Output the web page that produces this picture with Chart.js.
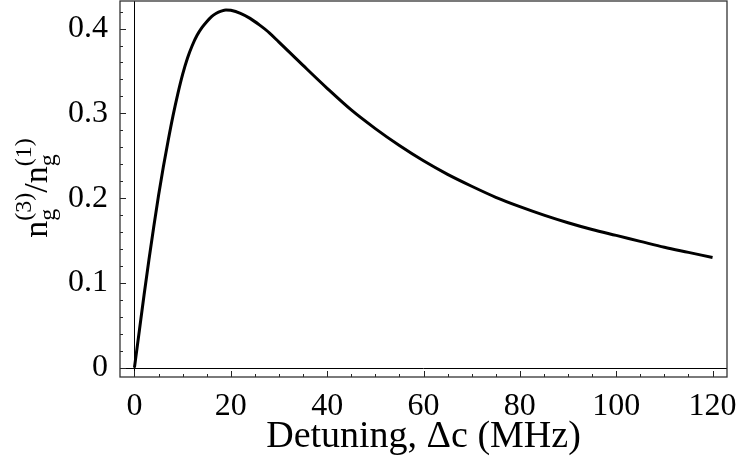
<!DOCTYPE html>
<html lang="en">
<head>
    <meta charset="UTF-8">
    <title>Group index ratio vs detuning</title>
    <script src="https://cdn.jsdelivr.net/npm/chart.js"></script>
    <style>
        html, body { margin: 0; padding: 0; background: #fff; }
        #wrap { width: 740px; height: 469px; }
    </style>
</head>
<body>
    <div id="wrap"><canvas id="myChart" width="740" height="469"></canvas></div>

    <script>
        // values
        const detuning = [0, 1, 2, 3, 4, 5, 6, 7, 8, 9, 10, 11, 12, 13, 14, 15, 16, 17, 18, 19, 20, 22, 24, 26, 28, 30,
                          35, 40, 45, 50, 55, 60, 65, 70, 75, 80, 85, 90, 95, 100, 105, 110, 115, 120];
        const ratio = [0, 0.043, 0.086, 0.127, 0.166, 0.203, 0.237, 0.268, 0.297, 0.323, 0.346, 0.365,
                       0.380, 0.392, 0.401, 0.408, 0.414, 0.418, 0.4205, 0.422, 0.4215, 0.418, 0.412,
                       0.404, 0.395, 0.384, 0.3565, 0.3295, 0.304, 0.282, 0.262, 0.244, 0.228, 0.214,
                       0.201, 0.190, 0.180, 0.171, 0.163, 0.156, 0.149, 0.142, 0.136, 0.130];
        const xTicks = [0, 20, 40, 60, 80, 100, 120];
        const yTicks = [0, 0.1, 0.2, 0.3, 0.4];
        const xMinor = [5, 10, 15, 25, 30, 35, 45, 50, 55, 65, 70, 75, 85, 90, 95, 105, 110, 115];
        const yMinor = [0.02, 0.04, 0.06, 0.08, 0.12, 0.14, 0.16, 0.18, 0.22, 0.24, 0.26, 0.28,
                        0.32, 0.34, 0.36, 0.38, 0.42];

        const serif = '"Liberation Serif", "Times New Roman", serif';

        // frame, inward ticks, zero axes and the y label (needs sub/superscripts)
        const framePlugin = {
            id: 'frame',
            afterDatasetsDraw(chart) {
                const { ctx, chartArea: a, scales: { x, y } } = chart;
                ctx.save();
                // zero axes
                ctx.strokeStyle = '#000';
                ctx.lineWidth = 1;
                ctx.beginPath();
                const x0 = Math.round(x.getPixelForValue(0)) + 0.5;
                const y0 = Math.round(y.getPixelForValue(0)) + 0.5;
                ctx.moveTo(x0, a.top); ctx.lineTo(x0, a.bottom);
                ctx.moveTo(a.left, y0); ctx.lineTo(a.right, y0);
                ctx.stroke();

                // ticks
                ctx.strokeStyle = '#222';
                ctx.lineWidth = 1;
                ctx.beginPath();
                xTicks.forEach(v => {
                    const p = Math.round(x.getPixelForValue(v)) + 0.5;
                    ctx.moveTo(p, a.bottom); ctx.lineTo(p, a.bottom - 6);
                });
                xMinor.forEach(v => {
                    const p = Math.round(x.getPixelForValue(v)) + 0.5;
                    ctx.moveTo(p, a.bottom); ctx.lineTo(p, a.bottom - 3);
                });
                yTicks.forEach(v => {
                    const p = Math.round(y.getPixelForValue(v)) + 0.5;
                    ctx.moveTo(a.left, p); ctx.lineTo(a.left + 6, p);
                });
                yMinor.forEach(v => {
                    const p = Math.round(y.getPixelForValue(v)) + 0.5;
                    ctx.moveTo(a.left, p); ctx.lineTo(a.left + 3, p);
                });
                ctx.stroke();

                // frame
                ctx.strokeStyle = '#333';
                ctx.lineWidth = 1.3;
                ctx.strokeRect(a.left, a.top, a.right - a.left, a.bottom - a.top);

                // y axis label: n_g^(3)/n_g^(1)
                const big = '34px ' + serif, small = '24px ' + serif;
                const parts = [
                    ['n', big, 0], ['g', small, 8, '(3)'],
                    ['/n', big, 0], ['g', small, 8, '(1)']
                ];
                ctx.fillStyle = '#000';
                ctx.textBaseline = 'alphabetic';
                ctx.textAlign = 'left';
                let total = 0;
                const widths = parts.map(p => {
                    ctx.font = p[1];
                    let w = ctx.measureText(p[0]).width;
                    if (p[3]) w = Math.max(w, ctx.measureText(p[3]).width);
                    total += w;
                    return w;
                });
                ctx.translate(47, 188);
                ctx.rotate(-Math.PI / 2);
                let cx = -total / 2;
                parts.forEach((p, i) => {
                    ctx.font = p[1];
                    ctx.fillText(p[0], cx, p[2]);
                    if (p[3]) ctx.fillText(p[3], cx, -16);
                    cx += widths[i];
                });
                ctx.restore();
            }
        };

        const ctx = document.getElementById('myChart').getContext('2d');
        const myChart = new Chart(ctx, {
            type: 'line',
            data: {
                datasets: [{
                    data: detuning.map((d, i) => ({ x: d, y: ratio[i] })),
                    borderColor: '#000',
                    borderWidth: 3,
                    pointRadius: 0,
                    fill: false,
                    cubicInterpolationMode: 'monotone'
                }]
            },
            options: {
                responsive: false,
                animation: false,
                layout: { padding: { top: 1, right: 13, left: 0, bottom: 0 } },
                plugins: {
                    legend: { display: false },
                    tooltip: { enabled: false }
                },
                scales: {
                    x: {
                        type: 'linear',
                        min: -3,
                        max: 123,
                        grid: { display: false, drawTicks: false },
                        border: { display: false },
                        afterBuildTicks: s => { s.ticks = xTicks.map(v => ({ value: v })); },
                        afterFit: s => { s.height = 92; s.paddingLeft = 0; s.paddingRight = 0; },
                        ticks: {
                            color: '#000',
                            font: { family: serif, size: 32 },
                            padding: 10,
                            maxRotation: 0
                        },
                        title: {
                            display: true,
                            text: 'Detuning, Δc (MHz)',
                            color: '#000',
                            font: { family: serif, size: 38 },
                            padding: { top: 9, bottom: 9 }
                        }
                    },
                    y: {
                        type: 'linear',
                        min: -0.011,
                        max: 0.4325,
                        grid: { display: false, drawTicks: false },
                        border: { display: false },
                        afterBuildTicks: s => { s.ticks = yTicks.map(v => ({ value: v })); },
                        afterFit: s => { s.width = 120; s.paddingTop = 0; s.paddingBottom = 0; },
                        ticks: {
                            color: '#000',
                            font: { family: serif, size: 32 },
                            padding: 12,
                            callback: v => v === 0 ? '0' : v.toFixed(1)
                        }
                    }
                }
            },
            plugins: [framePlugin]
        });
    </script>
</body>
</html>
